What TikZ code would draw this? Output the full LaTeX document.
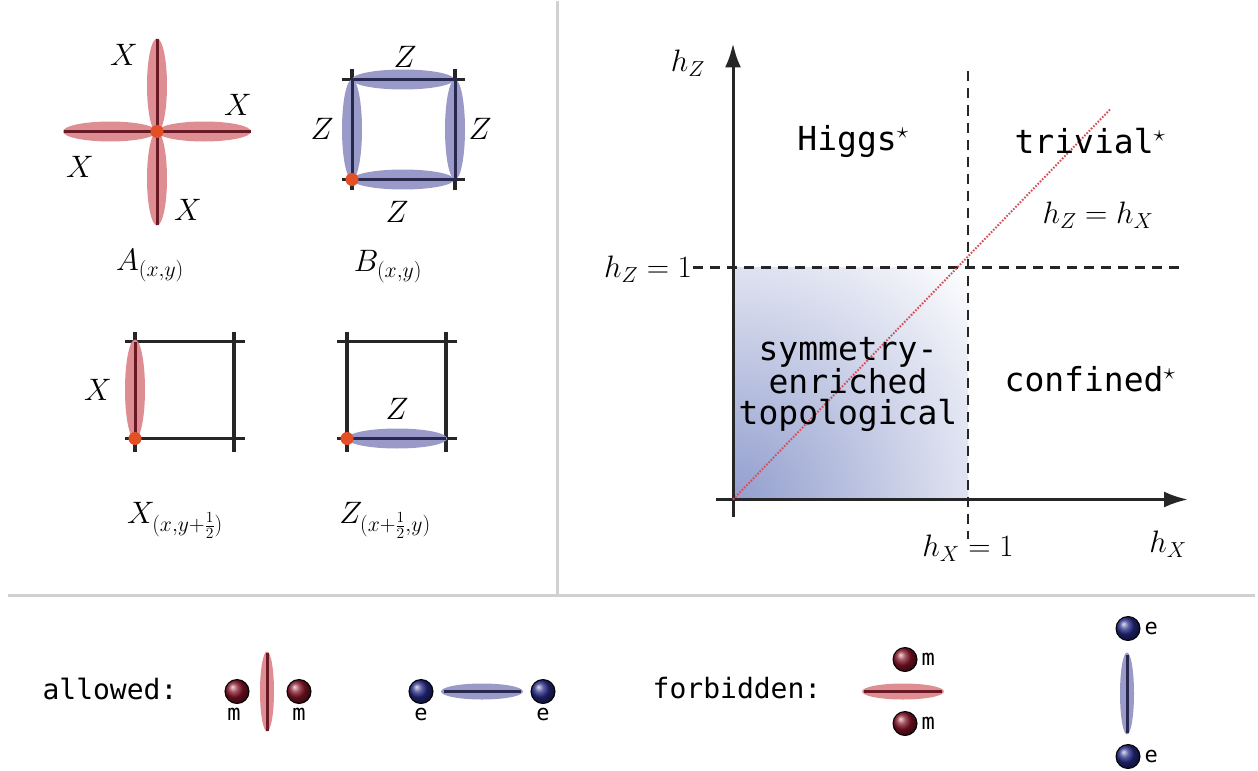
\RequirePackage{fix-cm}
\documentclass[tikz,border=0pt]{standalone}
\usepackage{fontspec}
\setmonofont{DejaVu Sans Mono}
\usetikzlibrary{arrows.meta,positioning}

\definecolor{xfill}{RGB}{222,142,147}
\definecolor{xline}{RGB}{105,25,35}
\definecolor{zfill}{RGB}{154,154,200}
\definecolor{zline}{RGB}{40,40,78}
\definecolor{sitecol}{RGB}{228,80,38}
\definecolor{mcol}{RGB}{135,20,40}
\definecolor{ecol}{RGB}{38,42,135}
\definecolor{topo}{RGB}{146,158,206}
\definecolor{divider}{RGB}{208,208,208}
\definecolor{diag}{RGB}{214,78,88}

\begin{document}
\begin{tikzpicture}[x=1pt, y=-1pt,
    mathlbl/.style={font=\fontsize{31}{36}\selectfont},
    phase/.style={font=\fontsize{33}{31}\selectfont\ttfamily, align=center},
    keyword/.style={font=\fontsize{28}{32}\selectfont\ttfamily},
    charge/.style={font=\fontsize{22}{24}\selectfont\ttfamily, inner sep=1pt},
    lattice/.style={line width=3.3pt, black!85},
    xbond/.style={line width=3pt, xline},
    zbond/.style={line width=3pt, zline},
    site/.style={circle, fill=sitecol, minimum size=13pt, inner sep=0pt},
    sphere/.style={circle, draw=black, line width=1pt, minimum size=24pt, inner sep=0pt},
    mpart/.style={sphere, ball color=mcol},
    epart/.style={sphere, ball color=ecol},
    axis/.style={line width=3pt, black!85, -{Latex[length=24pt, width=16pt]}},
    crit/.style={line width=2.6pt, black!85, dash pattern=on 10pt off 7pt}]

  \fill[white] (0,0) rectangle (1258,769);
  \draw[divider, line width=3pt] (557,0) -- (557,592);
  \draw[divider, line width=3pt] (8,594) -- (1255,594);

  % star operator A
  \fill[xfill] (157,84) ellipse (10pt and 47pt);
  \fill[xfill] (157,177) ellipse (10pt and 47pt);
  \fill[xfill] (110,130) ellipse (47pt and 10pt);
  \fill[xfill] (204,130) ellipse (47pt and 10pt);
  \draw[xbond] (157,38) -- (157,223);
  \draw[xbond] (64,130) -- (251,130);
  \node[site] (sA) at (157,130) {};
  \node[mathlbl] at (124,53) {$X$};
  \node[mathlbl] at (238,103) {$X$};
  \node[mathlbl] at (80,165) {$X$};
  \node[mathlbl] at (188,208) {$X$};
  \node[mathlbl] (A) at (150,264) {$A_{(x,y)}$};

  % plaquette operator B
  \draw[lattice] (342,78) -- (465,78);
  \draw[lattice] (342,178) -- (465,178);
  \draw[lattice] (352,68) -- (352,188);
  \draw[lattice] (455,68) -- (455,188);
  \fill[zfill] (403,78) ellipse (51pt and 10pt);
  \fill[zfill] (403,178) ellipse (51pt and 10pt);
  \fill[zfill] (352,128) ellipse (10pt and 50pt);
  \fill[zfill] (455,128) ellipse (10pt and 50pt);
  \draw[zbond] (352,78) rectangle (455,178);
  \node[site] (sB) at (352,178) {};
  \node[mathlbl] at (405,55) {$Z$};
  \node[mathlbl] at (322,127) {$Z$};
  \node[mathlbl] at (480,127) {$Z$};
  \node[mathlbl] at (397,210) {$Z$};
  \node[mathlbl] (B) at (388,265) {$B_{(x,y)}$};

  % single-link terms
  \foreach \x in {135,347} {
    \draw[lattice] (\x-10,340) -- (\x+110,340);
    \draw[lattice] (\x-10,437) -- (\x+110,437);
    \draw[lattice] (\x,330) -- (\x,450);
    \draw[lattice] (\x+99,330) -- (\x+99,450);
  }
  \fill[xfill] (135,388) ellipse (10pt and 50pt);
  \draw[xbond] (135,340) -- (135,437);
  \node[site] (sX) at (135,437) {};
  \node[mathlbl] at (98,388) {$X$};
  \node[mathlbl] (Xlink) at (175,519) {$X_{(x,y+\frac{1}{2})}$};
  \fill[zfill] (397,437) ellipse (50pt and 10pt);
  \draw[zbond] (347,437) -- (446,437);
  \node[site] (sZ) at (347,437) {};
  \node[mathlbl] at (397,407) {$Z$};
  \node[mathlbl] (Zlink) at (385,519) {$Z_{(x+\frac{1}{2},y)}$};

  % phase diagram
  \coordinate (o) at (733,498);
  \coordinate (c) at (968,266);
  \begin{scope}
    \clip (o) rectangle (c);
    \shade[inner color=topo, outer color=white] (o) circle (330pt);
  \end{scope}
  \draw[axis] (733,515) -- (733,42);
  \draw[axis] (716,498) -- (1188,498);
  \draw[crit] (968,70) -- (968,537);
  \draw[crit] (693,266) -- (1180,266);
  \draw[diag, line width=2pt, dash pattern=on 1.6pt off 1.6pt] (o) -- (1110,108);
  \node[mathlbl] (hz) at (688,62) {$h_Z$};
  \node[mathlbl] (hzone) at (648,268) {$h_Z=1$};
  \node[mathlbl] (hxone) at (968,547) {$h_X=1$};
  \node[mathlbl] (hx) at (1168,543) {$h_X$};
  \node[mathlbl] (equal) at (1098,214) {$h_Z=h_X$};
  \node[phase] (higgs) at (853,140) {Higgs$^\star$};
  \node[phase] (trivial) at (1090,140) {trivial$^\star$};
  \node[phase] (confined) at (1090,378) {confined$^\star$};
  \node[phase] (set) at (848,383) {symmetry-\\enriched\\topological};

  % allowed / forbidden
  \node[keyword] (allowed) at (110,687) {allowed:};
  \fill[xfill] (267,690) ellipse (7pt and 40pt);
  \draw[xbond] (267,651) -- (267,729);
  \node[mpart] (m1) at (237,690) {};
  \node[mpart] (m2) at (299,690) {};
  \node[charge, below=3pt of m1, xshift=-3pt] {m};
  \node[charge, below=3pt of m2] {m};
  \fill[zfill] (482,690) ellipse (41pt and 8pt);
  \draw[zbond] (444,690) -- (521,690);
  \node[epart] (e1) at (421,690) {};
  \node[epart] (e2) at (543,690) {};
  \node[charge, below=3pt of e1] {e};
  \node[charge, below=3pt of e2] {e};

  \node[keyword] (forbidden) at (737,687) {forbidden:};
  \fill[xfill] (903,690) ellipse (41pt and 8pt);
  \draw[xbond] (864,690) -- (942,690);
  \node[mpart] (m3) at (905,658) {};
  \node[mpart] (m4) at (905,722) {};
  \node[charge, right=3pt of m3] {m};
  \node[charge, right=3pt of m4] {m};
  \fill[zfill] (1127,692) ellipse (7pt and 41pt);
  \draw[zbond] (1127,653) -- (1127,731);
  \node[epart] (e3) at (1128,627) {};
  \node[epart] (e4) at (1128,755) {};
  \node[charge, right=3pt of e3] {e};
  \node[charge, right=3pt of e4] {e};
\end{tikzpicture}
\end{document}
